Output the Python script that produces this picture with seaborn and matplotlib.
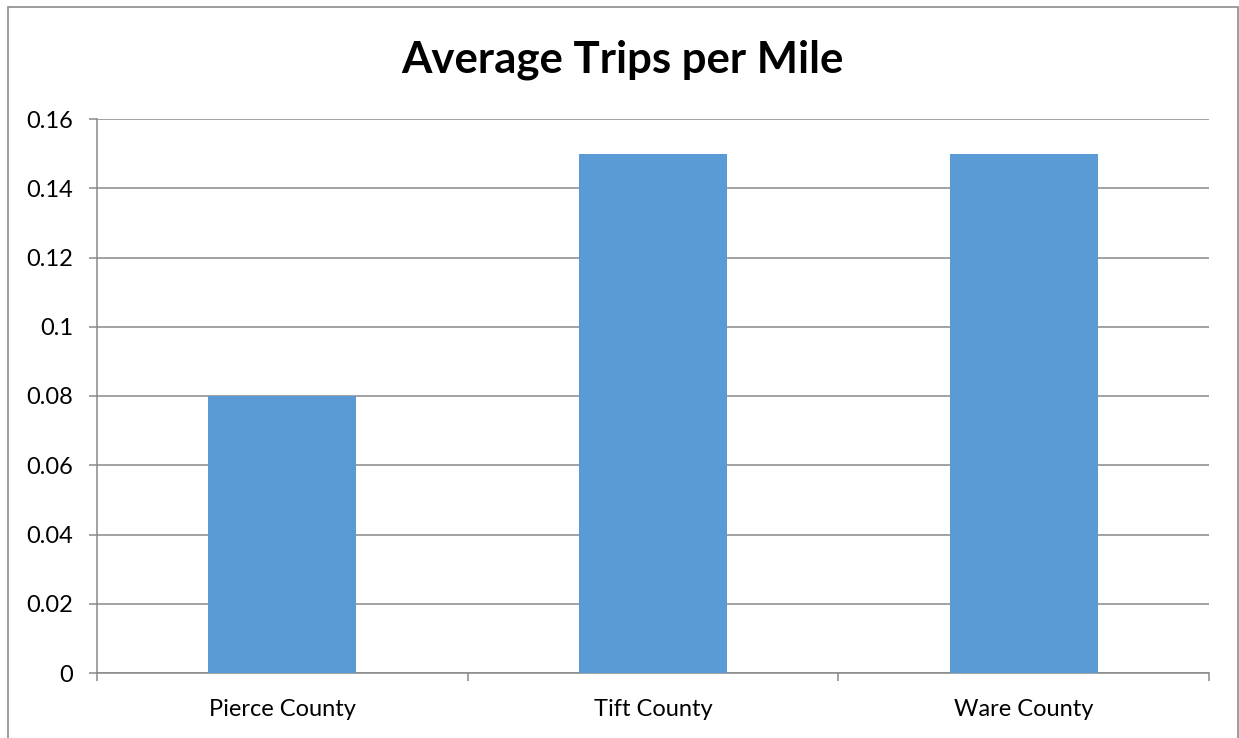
import matplotlib
matplotlib.use("Agg")
import matplotlib.pyplot as plt
import seaborn as sns
import pandas as pd
from matplotlib.patches import Rectangle

counties = ["Pierce County", "Tift County", "Ware County"]
trips_per_mile = [0.08, 0.15, 0.15]
y_ticks = [0, 0.02, 0.04, 0.06, 0.08, 0.1, 0.12, 0.14, 0.16]
y_tick_labels = ["0", "0.02", "0.04", "0.06", "0.08", "0.1", "0.12", "0.14", "0.16"]

sns.set_theme(style="white")
plt.rcParams["font.family"] = ["Lato", "DejaVu Sans"]

df = pd.DataFrame({"county": counties, "trips": trips_per_mile})

fig = plt.figure(figsize=(12.39, 7.38), dpi=100)
ax = fig.add_axes([97 / 1239, 1 - 673 / 738, (1209 - 97) / 1239, (673 - 119) / 738])

sns.barplot(data=df, x="county", y="trips", color="#5B9BD5", saturation=1,
            width=0.4, linewidth=0, edgecolor="none", ax=ax, zorder=3)

grid_color = "#898989"
ax.set_ylim(0, 0.16)
ax.set_xlim(-0.5, len(counties) - 0.5)
ax.set_yticks(y_ticks)
ax.set_yticklabels(y_tick_labels)
ax.yaxis.grid(True, color=grid_color, linewidth=1.1, zorder=0)
ax.set_axisbelow(True)

for side in ["top", "right"]:
    ax.spines[side].set_visible(False)
for side in ["left", "bottom"]:
    ax.spines[side].set_color(grid_color)
    ax.spines[side].set_linewidth(1.1)

ax.tick_params(axis="y", which="major", left=True, length=6, width=1.1,
               color=grid_color, pad=11, labelsize=17, labelcolor="black")
ax.tick_params(axis="x", which="major", bottom=False, length=0, pad=18.5,
               labelsize=17, labelcolor="black")
ax.set_xticks([i - 0.5 for i in range(len(counties) + 1)], minor=True)
ax.tick_params(axis="x", which="minor", bottom=True, length=6, width=1.1,
               color=grid_color)

ax.set_xlabel("")
ax.set_ylabel("")

fig.text(622 / 1239, 1 - 60 / 738, "Average Trips per Mile", ha="center",
         va="center", fontsize=31.5, fontweight="bold", color="black")

fig.patches.append(Rectangle((8 / 1239, -0.01), (1238 - 8) / 1239, 1 - 7 / 738 + 0.01,
                             transform=fig.transFigure, fill=False,
                             edgecolor="#8c8c8c", linewidth=1.2))

fig.savefig("out.png", dpi=100)
